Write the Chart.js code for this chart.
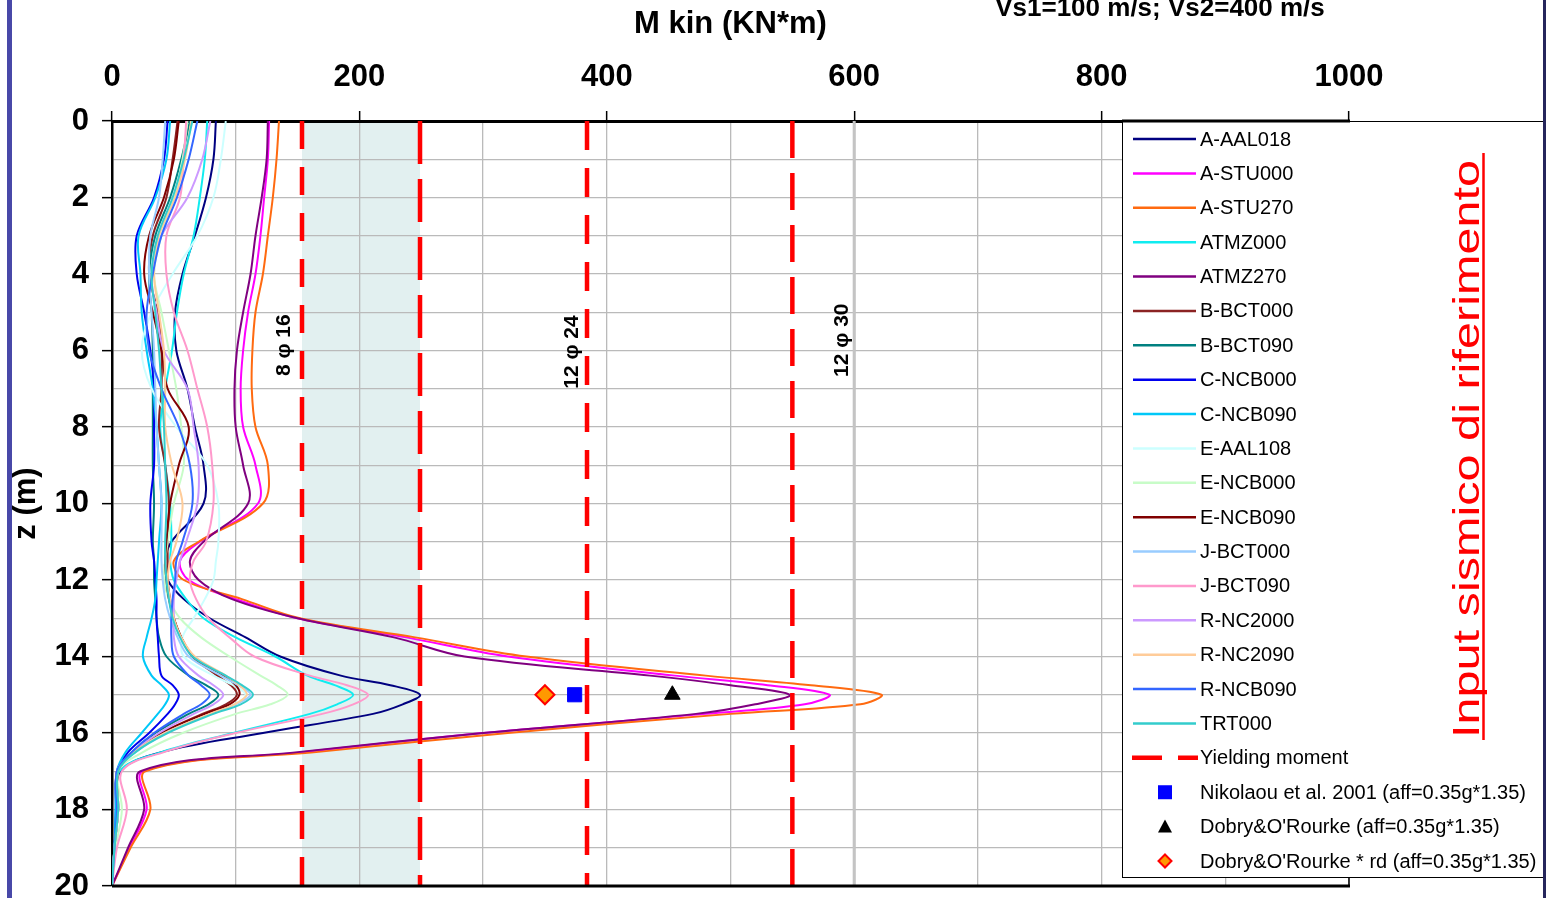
<!DOCTYPE html>
<html><head><meta charset="utf-8">
<script src="https://cdn.jsdelivr.net/npm/chart.js@4.4.1/dist/chart.umd.min.js"></script>
<style>html,body{margin:0;padding:0;background:#fff;overflow:hidden}canvas{display:block}</style>
</head><body>
<canvas id="c" width="1546" height="898"></canvas>
<script>
// ---------------- DATA ----------------
const depths = [0,1,2,3,4,5,6,7,8,9,10,11,11.5,12,12.5,13,13.5,14,14.5,14.75,15,15.25,15.5,16,16.5,17,18,19,20];
const seriesNames = ['A-AAL018','A-STU000','A-STU270','ATMZ000','ATMZ270','B-BCT000','B-BCT090','C-NCB000','C-NCB090','E-AAL108','E-NCB000','E-NCB090','J-BCT000','J-BCT090','R-NC2000','R-NC2090','R-NCB090','TRT000'];
const mAAL018 = [84,82,76,67,57,51,52,61,67,74,74,48,43,45,58,79,108,136,185,225,249,235,211,122,40,7,4,2,0];
const mSTU000 = [127,126,123,120,116,110,106,104,106,116,118,71,55,62,100,150,238,320,455,530,580,560,480,300,155,25,28,14,0];
const mSTU270 = [135,133,130,126,122,116,113.5,113,116,126,122,70,50,58,105,152,245,335,480,565,622,605,500,320,165,27,31,15,0];
const mTMZ000 = [77,75,71,66,58,52.5,48.5,43,39,43,47,48,47,50,60,74,100,132,158,180,195,182,160,98,40,6,5,2,0];
const mTMZ270 = [126,125,121,116,112,106,101,99,100,106,110,74,63,70,97,150,228,285,435,500,548,520,472,300,150,23,26,13,0];
const mBCT000 = [53,49,44,33,30,37,40,40,38,43,46,45,45,45,47,50,56,65,85,96,101,92,73,40,17,5,5,2,0];
const mBCT090 = [63,56,47,35,30,32,33,33,33,33,34,33,34,34,35,36,38,44,62,76,86,78,62,35,16,4,4,2,0];
const mNCB000 = [45,42,34,20,20,26,31,34,34,34,31,32,34,35,36,36,37,38,40,49,54,51,45,30,13,4,3,2,0];
const mNCB090 = [47,44,35,21.5,23,24,28,33,36,38,40,38,37,36,35,32,28,25,32,40,46,43,37,24,11,4,3,2,0];
const mAAL108 = [92,88,82,69,49,32,24,32,52,77,86,86,84,82,75,66,57,58,82,98,108,99,80,44,19,5,5,2,0];
const mENCB000 = [61,57,50,40,34,40,46,52,56,58,50,45,43,42,46,55,72,95,120,133,142,128,100,57,25,5,8,3,0];
const mENCB090 = [54,50,42,30,26,33,40,45,62,54,47,44,43,44,46,50,56,66,90,100,103,95,75,40,18,5,5,2,0];
const mJBCT000 = [43,41,38,31,30,32,34,35,36,38,40,40,40,41,43,47,53,62,88,102,112,100,80,43,19,5,5,2,0];
const mJBCT090 = [60,58,55,44,44,50,61,69,77,81,82,76,66,63,68,78,95,115,160,190,207,195,170,100,42,8,12,4,0];
const mNC2000 = [79.5,73,61,40,32,36,42,61,66,70,69,60,55,52,50,50,50,54,70,82,90,82,66,38,17,4,5,2,0];
const mNC2090 = [64,59,51,38,34,38,42,43,43,48.5,57,52,47,45,47,50,56,67,92,103,109,99,79,43,18,5,5,2,0];
const mRNCB090 = [69,62,52.5,40,33,28,30,40,54,63,65,57,52,51,49,48,48,50,62,72,79,72,58,34,16,4,4,2,0];
const mTRT000 = [65,58,49,37,32,35,38,40,42,43,44,43,43,44,46,49,55,65,92,105,114,104,82,45,19,5,5,2,0];
const seriesValues = [mAAL018,mSTU000,mSTU270,mTMZ000,mTMZ270,mBCT000,mBCT090,mNCB000,mNCB090,mAAL108,mENCB000,mENCB090,mJBCT000,mJBCT090,mNC2000,mNC2090,mRNCB090,mTRT000];

const yieldMoments = [153.6, 249, 384, 550];
const yieldLabels = ['8 \u03c6 16', '12 \u03c6 24', '12 \u03c6 30'];
const referenceLine = 600;
const depthRange = [0, 20];
const markerDepth = 15;
const nikolaouM = 374, dobryM = 453, dobryRdM = 350;
const markerNames = ['Nikolaou et al. 2001 (aff=0.35g*1.35)', "Dobry&O'Rourke (aff=0.35g*1.35)", "Dobry&O'Rourke * rd (aff=0.35g*1.35)"];

// ---------------- STYLE ----------------
const FONT = "'Liberation Sans', Arial, sans-serif";
const seriesColors = ['#000080','#ff00ff','#ff6a10','#10ecf0','#800080','#8b2323','#008080','#0000ee','#00c8f8','#ccffff','#c8fcc8','#800000','#99ccff','#ff99cc','#cc99ff','#ffcc99','#3366ff','#33cccc'];
const yieldDash = [[28,18],[43,15],[29,18],[37,15]];
const labelPos = [{x:144, z:5.86}, {x:377, z:6.04}, {x:595, z:5.73}];

const datasets = [];
datasets.push({label:markerNames[0], data:[{x:nikolaouM,y:markerDepth}], showLine:false, pointStyle:'rect', pointRadius:10, backgroundColor:'#0000ff', borderColor:'#0000ff', borderWidth:1, order:0});
datasets.push({label:markerNames[1], data:[{x:dobryM,y:markerDepth}], showLine:false, pointStyle:'triangle', pointRadius:9, backgroundColor:'#000', borderColor:'#000', borderWidth:1, order:0});
datasets.push({label:markerNames[2], data:[{x:dobryRdM,y:markerDepth}], showLine:false, pointStyle:'rectRot', pointRadius:9.5, backgroundColor:'#ff9900', borderColor:'#ff0000', borderWidth:2, order:0});
yieldMoments.forEach((v,i)=>{
  datasets.push({label:'Yielding moment', data:depthRange.map(z=>({x:v,y:z})), borderColor:'#ff0000', borderWidth:4.5, borderDash:yieldDash[i], pointRadius:0, tension:0, order:1});
});
datasets.push({label:'ref', data:depthRange.map(z=>({x:referenceLine,y:z})), borderColor:'#c4c4c4', borderWidth:3, pointRadius:0, tension:0, order:2});
seriesNames.forEach((n,i)=>{
  datasets.push({label:n, data:depths.map((z,k)=>({x:seriesValues[i][k], y:z})), borderColor:seriesColors[i], borderWidth:2, pointRadius:0, tension:0.35, order:100-i});
});

const decor = {
  id:'decor',
  beforeDraw(chart){
    const {ctx, chartArea:a, scales:{x}} = chart;
    ctx.save();
    ctx.fillStyle='#fff'; ctx.fillRect(0,0,chart.width,chart.height);
    const x0 = x.getPixelForValue(yieldMoments[0]), x1 = x.getPixelForValue(yieldMoments[1]);
    ctx.fillStyle='#e2f0f0';
    ctx.fillRect(x0, a.top, x1-x0, a.bottom-a.top);
    ctx.restore();
  },
  afterDatasetsDraw(chart){
    const {ctx, scales:{x,y}} = chart;
    ctx.save();
    ctx.fillStyle='#000';
    ctx.font = 'bold 21px ' + FONT;
    ctx.textAlign='center'; ctx.textBaseline='alphabetic';
    yieldLabels.forEach((t,i)=>{
      ctx.save();
      ctx.translate(x.getPixelForValue(labelPos[i].x), y.getPixelForValue(labelPos[i].z));
      ctx.rotate(-Math.PI/2);
      ctx.fillText(t,0,0);
      ctx.restore();
    });
    ctx.restore();
  },
  afterDraw(chart){
    const {ctx, chartArea:a} = chart;
    ctx.save();
    // bottom & right borders
    ctx.strokeStyle='#000'; ctx.lineWidth=3;
    ctx.beginPath(); ctx.moveTo(a.left,a.bottom); ctx.lineTo(a.right+1,a.bottom); ctx.stroke();
    ctx.lineWidth=1.5;
    ctx.beginPath(); ctx.moveTo(a.right,a.top); ctx.lineTo(a.right,a.bottom); ctx.stroke();
    // legend box
    const L=1122, T=121, R=1545, B=878;
    ctx.fillStyle='#fff'; ctx.fillRect(L,T,R-L,B-T);
    ctx.strokeStyle='#000'; ctx.lineWidth=1;
    ctx.strokeRect(L+0.5,T+0.5,R-L-1,B-T-1);
    ctx.lineWidth=3;
    ctx.beginPath(); ctx.moveTo(L,a.top); ctx.lineTo(a.right+1,a.top); ctx.stroke();
    const items = seriesNames.map((n,i)=>({type:'line',label:n,color:seriesColors[i]}));
    items.push({type:'dash',label:'Yielding moment'});
    items.push({type:'rect',label:markerNames[0]});
    items.push({type:'tri',label:markerNames[1]});
    items.push({type:'dia',label:markerNames[2]});
    const step = (861-139)/(items.length-1);
    ctx.font = '20px ' + FONT; ctx.textBaseline='middle'; ctx.textAlign='left';
    items.forEach((it,i)=>{
      const yy = 139 + i*step;
      if(it.type==='line'){
        ctx.strokeStyle=it.color; ctx.lineWidth=2.5; ctx.setLineDash([]);
        ctx.beginPath(); ctx.moveTo(1133,yy); ctx.lineTo(1196,yy); ctx.stroke();
      } else if(it.type==='dash'){
        ctx.strokeStyle='#ff0000'; ctx.lineWidth=4.5;
        ctx.beginPath(); ctx.moveTo(1132,yy); ctx.lineTo(1162,yy); ctx.moveTo(1178,yy); ctx.lineTo(1198,yy); ctx.stroke();
      } else if(it.type==='rect'){
        ctx.fillStyle='#0000ff'; ctx.fillRect(1158,yy-7,14,14);
      } else if(it.type==='tri'){
        ctx.fillStyle='#000'; ctx.beginPath(); ctx.moveTo(1165,yy-7); ctx.lineTo(1172,yy+6); ctx.lineTo(1158,yy+6); ctx.closePath(); ctx.fill();
      } else {
        ctx.fillStyle='#ff9900'; ctx.strokeStyle='#ff0000'; ctx.lineWidth=2;
        ctx.beginPath(); ctx.moveTo(1165,yy-6.5); ctx.lineTo(1171.5,yy); ctx.lineTo(1165,yy+6.5); ctx.lineTo(1158.5,yy); ctx.closePath(); ctx.fill(); ctx.stroke();
      }
      ctx.fillStyle='#000';
      ctx.fillText(it.label, 1200, yy+1);
    });
    // red rotated note
    const note='Input sismico di riferimento';
    ctx.save();
    ctx.font='37px ' + FONT;
    const w = ctx.measureText(note).width;
    ctx.translate(1479,449); ctx.rotate(-Math.PI/2); ctx.scale(578/w,1);
    ctx.fillStyle='#ff0000'; ctx.textAlign='center'; ctx.textBaseline='alphabetic';
    ctx.fillText(note,0,0);
    ctx.restore();
    ctx.strokeStyle='#ff0000'; ctx.lineWidth=2.5;
    ctx.beginPath(); ctx.moveTo(1483.5,153); ctx.lineTo(1483.5,740); ctx.stroke();
    // subtitle
    ctx.fillStyle='#000'; ctx.font='bold 26px ' + FONT; ctx.textAlign='center'; ctx.textBaseline='alphabetic';
    ctx.fillText('Vs1=100 m/s; Vs2=400 m/s', 1160, 16);
    // frame lines
    ctx.fillStyle='#4848a8'; ctx.fillRect(7,0,5,chart.height);
    ctx.fillStyle='#26265c'; ctx.fillRect(1543,0,3,chart.height);
    ctx.restore();
  }
};

const tickFont = {family:FONT, size:31, weight:'bold'};
new Chart(document.getElementById('c'), {
  type:'line',
  data:{datasets},
  options:{
    responsive:false, animation:false, indexAxis:'y',
    layout:{padding:{left:0,top:0,right:197,bottom:12}},
    plugins:{legend:{display:false}, tooltip:{enabled:false}},
    scales:{
      x:{type:'linear', position:'top', min:0, max:1000,
        afterFit:s=>{s.height=121; s.paddingLeft=0; s.paddingRight=0;},
        ticks:{stepSize:100, autoSkip:false, maxRotation:0, padding:15, color:'#000', font:tickFont, callback:v=> v%200===0 ? String(v) : ''},
        grid:{color:'#bababa', lineWidth:1.3, tickLength:10, tickWidth:1.5, tickColor:c=>(c.tick && c.tick.value%200===0)?'#000':'rgba(0,0,0,0)'},
        border:{display:true, color:'#000', width:3},
        title:{display:true, text:'M kin (KN*m)', color:'#000', font:tickFont, padding:{top:6,bottom:0}}
      },
      y:{type:'linear', position:'left', reverse:true, min:0, max:20,
        afterFit:s=>{s.width=112; s.paddingTop=0; s.paddingBottom=0;},
        ticks:{stepSize:1, autoSkip:false, padding:13, color:'#000', font:tickFont, callback:v=> v%2===0 ? String(v) : ''},
        grid:{color:'#bababa', lineWidth:1.3, tickLength:10, tickWidth:1.5, tickColor:c=>(c.tick && c.tick.value%2===0)?'#000':'rgba(0,0,0,0)'},
        border:{display:true, color:'#000', width:2.5},
        title:{display:true, text:'z (m)', color:'#000', font:tickFont, padding:{top:8,bottom:0}}
      }
    }
  },
  plugins:[decor]
});
</script>
</body></html>
